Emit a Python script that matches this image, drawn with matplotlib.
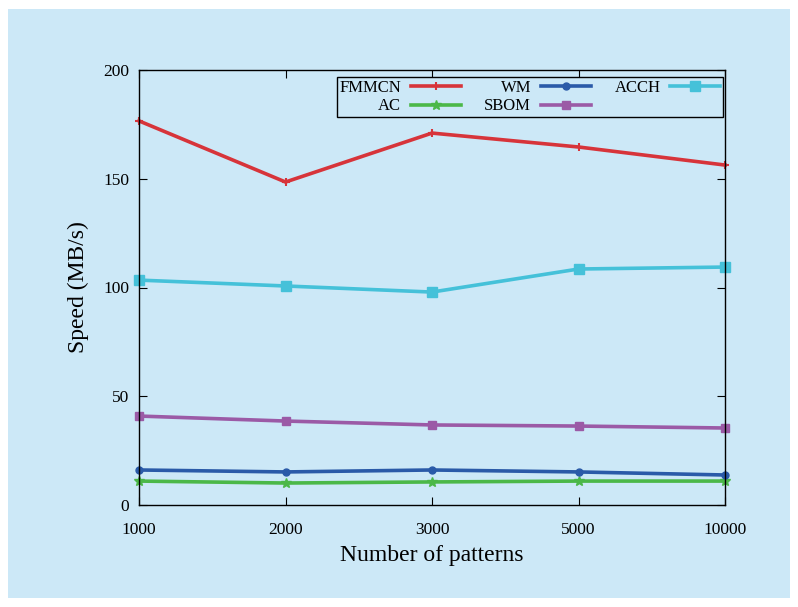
import matplotlib
matplotlib.use("Agg")
import matplotlib.pyplot as plt
from matplotlib.patches import Rectangle

categories = ["1000", "2000", "3000", "5000", "10000"]
fmmcn = [176.6, 148.5, 171.0, 164.6, 156.3]
wm = [16.1, 15.2, 16.1, 15.2, 13.8]
acch = [103.4, 100.7, 97.9, 108.5, 109.4]
ac = [11.0, 10.1, 10.6, 11.0, 11.0]
sbom = [40.9, 38.6, 36.8, 36.3, 35.4]
yticks = [0, 50, 100, 150, 200]

plt.rcParams['font.family'] = ['Liberation Serif', 'DejaVu Serif']

fig = plt.figure(figsize=(7.98, 6.07), dpi=100)
bg = '#cce8f7'
fig.patch.set_facecolor('white')
fig.patches.append(Rectangle((8/798, 9/607), 782/798, 589/607, transform=fig.transFigure,
                             facecolor=bg, edgecolor='none', zorder=-10))
ax = fig.add_axes([139/798, 1-505/607, 586/798, 435/607])
ax.set_facecolor(bg)

x = list(range(len(categories)))
series = [
    ("FMMCN", fmmcn, '#d7343a', '+', 6, 1.5),
    ("AC", ac, '#4bb848', '*', 7, 1),
    ("WM", wm, '#2a5aa8', 'o', 5, 1),
    ("SBOM", sbom, '#9b5aa6', 's', 6, 1),
    ("ACCH", acch, '#45c1d9', 's', 7, 1),
]
for name, vals, c, m, ms, mew in series:
    ax.plot(x, vals, color=c, lw=2.6, marker=m, markersize=ms, markeredgewidth=mew,
            markeredgecolor=c, markerfacecolor=c, label=name, clip_on=False)

ax.set_xlim(0, len(categories)-1)
ax.set_ylim(0, 200)
ax.set_xticks(x)
ax.set_xticklabels(categories)
ax.set_yticks(yticks)
ax.tick_params(direction='in', top=True, right=True, labelsize=12.5, length=6)
ax.tick_params(axis='x', pad=12)
ax.tick_params(axis='y', pad=7)
for s in ax.spines.values():
    s.set_linewidth(1.0)
ax.set_xlabel("Number of patterns", fontsize=17, labelpad=5)
ax.set_ylabel("Speed (MB/s)", fontsize=17, labelpad=10)

leg = ax.legend(ncol=3, loc='upper right', bbox_to_anchor=(0.9965, 0.983), markerfirst=False,
                fontsize=12, frameon=True, fancybox=False, edgecolor='black',
                facecolor=bg, framealpha=1, borderpad=0.15, handlelength=3.0,
                columnspacing=1.4, labelspacing=0.15, handletextpad=0.6, borderaxespad=0)
leg.get_frame().set_linewidth(1.0)
for t in leg.get_texts():
    t.set_ha('right')

fig.savefig("out.png", dpi=100, facecolor='white')
